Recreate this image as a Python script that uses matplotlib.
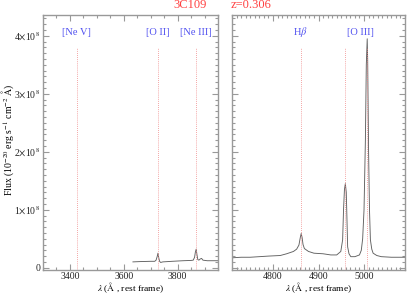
import matplotlib
matplotlib.use("Agg")
import matplotlib.pyplot as plt
from matplotlib.ticker import MultipleLocator, FixedLocator

plt.rcParams['font.family'] = ['Liberation Serif', 'DejaVu Serif']
plt.rcParams['mathtext.fontset'] = 'stix'

# ---------------- data ----------------
title_obj = "3C109"
title_z = "z=0.306"

# blue-side spectrum (Angstrom, flux in 1e8 units)
wave_blue = [3634, 3660, 3700, 3715, 3720, 3724, 3727, 3730, 3733, 3737, 3745, 3780, 3820,
             3850, 3858, 3863, 3866, 3869, 3872, 3875, 3879, 3884, 3889, 3894, 3910, 3950]
flux_blue = [0.10, 0.105, 0.11, 0.11, 0.13, 0.19, 0.25, 0.17, 0.11, 0.09, 0.10, 0.11, 0.12,
             0.125, 0.13, 0.18, 0.27, 0.32, 0.22, 0.14, 0.13, 0.15, 0.16, 0.13, 0.12, 0.12]

# red-side spectrum
wave_red = [4710, 4730, 4750, 4770, 4790, 4816, 4830, 4845, 4852, 4857, 4860, 4862, 4864, 4866,
            4869, 4878, 4890, 4910, 4927, 4940, 4949, 4953, 4955, 4957, 4959, 4961, 4962, 4964,
            4967, 4971, 4980, 4990, 4994, 4997, 5000, 5003, 5005, 5007, 5008, 5010, 5012, 5014,
            5017, 5020, 5028, 5038, 5060, 5075, 5090]
flux_red = [0.17, 0.18, 0.18, 0.19, 0.20, 0.21, 0.24, 0.28, 0.32, 0.39, 0.52, 0.59, 0.52, 0.40,
            0.33, 0.28, 0.25, 0.24, 0.22, 0.22, 0.28, 0.48, 1.00, 1.35, 1.45, 1.30, 1.00, 0.36,
            0.24, 0.19, 0.19, 0.22, 0.30, 0.50, 1.00, 2.20, 3.50, 3.95, 3.60, 2.00, 1.00, 0.48,
            0.32, 0.25, 0.21, 0.19, 0.18, 0.18, 0.18]

# line identifications
blue_lines = [3426, 3727, 3869]
red_lines = [4861, 4959, 5007]
blue_labels = ["[Ne V]", "[O II]", "[Ne III]"]
blue_label_pos = [3426, 3727, 3869]
red_labels = [r"H$\beta$", "[O III]"]
red_label_pos = [4861, 4993]

ytick_vals = [0, 1, 2, 3, 4]
ytick_labels = ["0", r"1$\times$10$^8$", r"2$\times$10$^8$", r"3$\times$10$^8$", r"4$\times$10$^8$"]

# ---------------- figure ----------------
W, H = 407, 295
fig = plt.figure(figsize=(W / 100, H / 100), dpi=100)
axL = fig.add_axes([43 / W, (H - 270) / H, 175 / W, 255 / H])
axR = fig.add_axes([232 / W, (H - 270) / H, 173 / W, 255 / H])

spec_col = '#606060'
line_col = '#f08888'
lab_col = '#5050f0'
ax_col = '#999999'
ymin, ymax = -0.04, 4.36

for ax in (axL, axR):
    ax.set_ylim(ymin, ymax)
    for s in ax.spines.values():
        s.set_color(ax_col)
        s.set_linewidth(1.0)
    ax.tick_params(which='both', direction='in', top=True, right=True, color=ax_col,
                   labelsize=7, labelcolor='#222222', width=0.8)
    ax.tick_params(axis='x', pad=1.5)
    ax.tick_params(axis='y', pad=2)
    ax.tick_params(which='major', length=4)
    ax.tick_params(which='minor', length=2)
    ax.yaxis.set_major_locator(FixedLocator(ytick_vals))
    ax.yaxis.set_minor_locator(MultipleLocator(0.1))

axL.plot(wave_blue, flux_blue, color=spec_col, lw=0.65)
axR.plot(wave_red, flux_red, color=spec_col, lw=0.65)

axL.set_xlim(3300, 3950)
axL.xaxis.set_major_locator(MultipleLocator(200))
axL.xaxis.set_minor_locator(MultipleLocator(50))
axR.set_xlim(4710, 5090)
axR.xaxis.set_major_locator(MultipleLocator(100))
axR.xaxis.set_minor_locator(MultipleLocator(10))

axL.set_yticklabels(ytick_labels)
axR.set_yticklabels([])

for ax, lines in ((axL, blue_lines), (axR, red_lines)):
    for w in lines:
        ax.plot([w, w], [ymin, 3.79], color=line_col, lw=0.6, ls=(0, (1, 1.5)))

for ax, labs, pos in ((axL, blue_labels, blue_label_pos), (axR, red_labels, red_label_pos)):
    for t, p in zip(labs, pos):
        ax.text(p, 4.06, t, color=lab_col, fontsize=7.5, ha='center', va='center', clip_on=False)

xlab = r"$\lambda$ ($\rm\AA$ , rest frame)"
fig.text((43 + 175 / 2) / W, 1 - 291 / H, xlab, fontsize=6.8, ha='center', va='baseline')
fig.text((232 + 173 / 2) / W, 1 - 291 / H, xlab, fontsize=6.8, ha='center', va='baseline')
fig.text(7.5 / W, 1 - 140 / H, r"Flux (10$^{-20}$ erg s$^{-1}$ cm$^{-2}$ $\rm\AA$)",
         fontsize=7, rotation=90, ha='center', va='center')

fig.text(190 / W, 1 - 5 / H, title_obj, color='#ff4040', fontsize=9, ha='center', va='center')
fig.text(251 / W, 1 - 5 / H, title_z, color='#ff4040', fontsize=9, ha='center', va='center')

fig.savefig("out.png", dpi=100)
